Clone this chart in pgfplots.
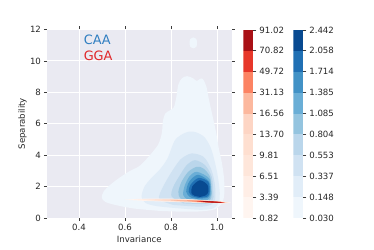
\documentclass[border=0pt]{standalone}
\usepackage{fontspec}
\setmainfont{DejaVu Sans}
\usepackage{pgfplots}
\pgfplotsset{compat=1.18}
\definecolor{axbg}{HTML}{EAEAF2}
\definecolor{txt}{HTML}{262626}
\definecolor{tk}{HTML}{3C3C3C}
\definecolor{B1}{HTML}{EFF6FC}
\definecolor{B2}{HTML}{E1EDF8}
\definecolor{B3}{HTML}{D0E2F2}
\definecolor{B4}{HTML}{BAD6EB}
\definecolor{B5}{HTML}{94C4DF}
\definecolor{B6}{HTML}{6AAED6}
\definecolor{B7}{HTML}{4292C6}
\definecolor{B8}{HTML}{2070B4}
\definecolor{B9}{HTML}{084A91}
\definecolor{R1}{HTML}{FFF5F0}
\definecolor{R2}{HTML}{FFEEE6}
\definecolor{R3}{HTML}{FEE6DA}
\definecolor{R4}{HTML}{FEDFD0}
\definecolor{R5}{HTML}{FDD5C4}
\definecolor{R6}{HTML}{FCB89E}
\definecolor{R7}{HTML}{FC8363}
\definecolor{R8}{HTML}{E7372A}
\definecolor{R9}{HTML}{A91016}
\definecolor{caa}{HTML}{2F7EC1}
\definecolor{gga}{HTML}{E0262A}
\pgfplotsset{
  cbar/.style={
    scale only axis, width=11.6bp, height=218bp, anchor=south west,
    xmin=0, xmax=1, ymin=0, ymax=9, xtick=\empty,
    ytick={0,1,...,9}, ytick pos=right, yticklabel pos=right,
    tick align=outside, major tick length=3.5bp,
    axis line style={draw=none},
    every tick/.style={tk, line width=0.8bp},
    tick label style={font=\normalsize, text=txt},
    /pgf/number format/assume math mode=true,
  },
  band/.style={fill=#1, draw=none},
}
\begin{document}
\begin{tikzpicture}
\useasboundingbox (0,0) rectangle (433.6bp,289bp);
\begin{axis}[
  at={(54.5bp,36.3bp)}, anchor=south west, scale only axis,
  width=213.9bp, height=218.5bp,
  xmin=0.261, xmax=1.063, ymin=0, ymax=12,
  xtick={0.4,0.6,0.8,1.0}, ytick={0,2,4,6,8,10,12},
  xticklabel style={/pgf/number format/.cd, fixed, fixed zerofill, precision=1},
  /pgf/number format/assume math mode=true,
  tick align=outside, major tick length=3.5bp,
  every tick/.style={tk, line width=0.8bp},
  tick label style={font=\normalsize, text=txt},
  label style={font=\normalsize, text=txt},
  ylabel style={yshift=-3bp},
  xlabel={Invariance}, ylabel={Separability},
  axis background/.style={fill=axbg},
  axis line style={draw=none},
  grid=major, grid style={white, line width=1bp},
]
% CAA (blue) density levels
\addplot[band=B1, smooth, tension=0.5] coordinates {
(0.75,0.45) (0.85,0.40) (0.93,0.42) (0.99,0.55) (1.022,0.95) (1.032,1.6) (1.03,2.6) (1.02,3.6) (1.008,4.4) (0.998,5.3) (0.988,6.0) (0.976,6.8) (0.964,7.6) (0.953,8.4) (0.938,8.85) (0.925,8.85) (0.912,8.72) (0.895,8.9) (0.87,9.03) (0.848,8.9) (0.832,8.5) (0.822,7.6) (0.812,7.05) (0.795,6.85) (0.775,6.65) (0.765,6.2) (0.76,5.4) (0.745,4.7) (0.72,4.2) (0.69,3.7) (0.66,3.28) (0.62,2.98) (0.575,2.55) (0.535,2.1) (0.508,1.7) (0.499,1.3) (0.515,1.02) (0.56,0.82) (0.64,0.6) (0.75,0.45)} -- cycle;
\addplot[band=B1, smooth, tension=0.6] coordinates {
(0.897,10.8) (0.91,10.9) (0.913,11.15) (0.91,11.4) (0.897,11.5) (0.884,11.4) (0.881,11.15) (0.884,10.9) (0.897,10.8)} -- cycle;
\addplot[band=B2, smooth, tension=0.5] coordinates {
(0.83,0.62) (0.93,0.52) (0.985,0.62) (1.008,1.0) (1.012,1.6) (1.004,2.6) (0.99,3.6) (0.972,4.5) (0.945,5.15) (0.91,5.45) (0.88,5.5) (0.845,5.3) (0.815,4.9) (0.785,3.8) (0.752,3.1) (0.715,2.55) (0.685,2.0) (0.672,1.35) (0.69,0.95) (0.74,0.75) (0.83,0.62)} -- cycle;
\addplot[band=B3, smooth, tension=0.5] coordinates {
(0.81,0.83) (0.926,0.72) (0.975,0.85) (0.991,1.14) (0.993,1.8) (0.985,2.6) (0.97,3.26) (0.941,3.9) (0.89,4.11) (0.846,3.79) (0.817,3.26) (0.781,2.41) (0.752,1.57) (0.752,1.14) (0.81,0.83)} -- cycle;
\addplot[band=B4, smooth, tension=0.5] coordinates {
(0.854,0.93) (0.955,0.9) (0.982,1.2) (0.984,1.57) (0.977,2.62) (0.948,3.36) (0.904,3.68) (0.868,3.36) (0.839,2.73) (0.81,1.99) (0.803,1.36) (0.854,0.93)} -- cycle;
\addplot[band=B5, smooth, tension=0.5] coordinates {
(0.868,1.04) (0.955,1.02) (0.975,1.3) (0.977,1.78) (0.97,2.62) (0.941,3.15) (0.912,3.26) (0.875,2.94) (0.846,2.31) (0.832,1.67) (0.84,1.25) (0.868,1.04)} -- cycle;
\addplot[band=B6, smooth, tension=0.5] coordinates {
(0.897,1.1) (0.955,1.12) (0.972,1.4) (0.974,1.78) (0.966,2.52) (0.912,2.94) (0.879,2.62) (0.858,1.99) (0.853,1.46) (0.87,1.2) (0.897,1.1)} -- cycle;
\addplot[band=B7, smooth, tension=0.5] coordinates {
(0.912,1.22) (0.958,1.28) (0.970,1.57) (0.966,2.31) (0.917,2.75) (0.879,2.31) (0.866,1.67) (0.883,1.33) (0.912,1.22)} -- cycle;
\addplot[band=B8, smooth, tension=0.5] coordinates {
(0.919,1.28) (0.958,1.36) (0.968,1.67) (0.962,2.3) (0.92,2.55) (0.885,2.12) (0.877,1.67) (0.892,1.4) (0.919,1.28)} -- cycle;
\addplot[band=B9, smooth, tension=0.5] coordinates {
(0.926,1.34) (0.952,1.45) (0.962,1.67) (0.958,2.12) (0.925,2.4) (0.893,2.02) (0.888,1.6) (0.902,1.42) (0.926,1.34)} -- cycle;
% GGA (red) density levels
\addplot[band=R1, smooth, tension=0.4] coordinates {
(0.60,1.16) (0.669,1.22) (0.761,1.237) (0.876,1.192) (0.968,1.106) (1.028,1.036) (1.06,0.97) (1.028,0.936) (0.968,0.946) (0.876,0.992) (0.761,1.047) (0.669,1.10) (0.60,1.16)} -- cycle;
\addplot[band=R2, smooth, tension=0.4] coordinates {
(0.64,1.16) (0.702,1.210) (0.785,1.216) (0.889,1.171) (0.972,1.090) (1.026,1.030) (1.055,0.973) (1.026,0.945) (0.972,0.955) (0.889,1.001) (0.785,1.054) (0.702,1.108) (0.64,1.16)} -- cycle;
\addplot[band=R3, smooth, tension=0.4] coordinates {
(0.68,1.16) (0.736,1.194) (0.810,1.196) (0.902,1.153) (0.976,1.079) (1.024,1.026) (1.05,0.975) (1.024,0.951) (0.976,0.959) (0.902,1.003) (0.810,1.054) (0.736,1.104) (0.68,1.16)} -- cycle;
\addplot[band=R4, smooth, tension=0.4] coordinates {
(0.72,1.154) (0.769,1.178) (0.834,1.175) (0.915,1.133) (0.980,1.068) (1.022,1.022) (1.045,0.978) (1.022,0.957) (0.980,0.964) (0.915,1.003) (0.834,1.051) (0.769,1.100) (0.72,1.154)} -- cycle;
\addplot[band=R5, smooth, tension=0.4] coordinates {
(0.76,1.142) (0.802,1.162) (0.858,1.153) (0.928,1.113) (0.984,1.057) (1.020,1.018) (1.04,0.98) (1.020,0.963) (0.984,0.969) (0.928,1.003) (0.858,1.049) (0.802,1.096) (0.76,1.142)} -- cycle;
\addplot[band=R6, smooth, tension=0.4] coordinates {
(0.80,1.13) (0.835,1.142) (0.882,1.136) (0.941,1.098) (0.988,1.050) (1.019,1.015) (1.035,0.983) (1.019,0.966) (0.988,0.970) (0.941,0.996) (0.882,1.042) (0.835,1.084) (0.80,1.13)} -- cycle;
\addplot[band=R7, smooth, tension=0.4] coordinates {
(0.87,1.097) (0.895,1.108) (0.928,1.098) (0.969,1.067) (1.002,1.033) (1.023,1.009) (1.035,0.983) (1.023,0.967) (1.002,0.965) (0.969,0.983) (0.928,1.018) (0.895,1.058) (0.87,1.097)} -- cycle;
\addplot[band=R8, smooth, tension=0.4] coordinates {
(0.91,1.072) (0.928,1.082) (0.952,1.076) (0.982,1.054) (1.006,1.029) (1.022,1.009) (1.03,0.985) (1.022,0.969) (1.006,0.965) (0.982,0.974) (0.952,1.000) (0.928,1.034) (0.91,1.072)} -- cycle;
\addplot[band=R9, smooth, tension=0.4] coordinates {
(0.93,1.058) (0.9435,1.066) (0.9615,1.064) (0.984,1.048) (1.002,1.027) (1.014,1.011) (1.02,0.99) (1.014,0.976) (1.002,0.971) (0.984,0.978) (0.9615,0.998) (0.9435,1.024) (0.93,1.058)} -- cycle;
\node[anchor=west, text=caa, font=\fontsize{15}{18}\selectfont, inner sep=0pt] at (axis cs:0.42,11.37) {CAA};
\node[anchor=west, text=gga, font=\fontsize{15}{18}\selectfont, inner sep=0pt] at (axis cs:0.42,10.35) {GGA};
\end{axis}
% GGA colour bar
\begin{axis}[cbar, at={(282.1bp,36.3bp)},
  yticklabels={0.82,3.39,6.51,9.81,13.70,16.56,31.13,49.72,70.82,91.02}]
\addplot[band=R1] coordinates {(0,0) (1,0) (1,1) (0,1)} -- cycle;
\addplot[band=R2] coordinates {(0,1) (1,1) (1,2) (0,2)} -- cycle;
\addplot[band=R3] coordinates {(0,2) (1,2) (1,3) (0,3)} -- cycle;
\addplot[band=R4] coordinates {(0,3) (1,3) (1,4) (0,4)} -- cycle;
\addplot[band=R5] coordinates {(0,4) (1,4) (1,5) (0,5)} -- cycle;
\addplot[band=R6] coordinates {(0,5) (1,5) (1,6) (0,6)} -- cycle;
\addplot[band=R7] coordinates {(0,6) (1,6) (1,7) (0,7)} -- cycle;
\addplot[band=R8] coordinates {(0,7) (1,7) (1,8) (0,8)} -- cycle;
\addplot[band=R9] coordinates {(0,8) (1,8) (1,9) (0,9)} -- cycle;
\end{axis}
% CAA colour bar
\begin{axis}[cbar, at={(340.0bp,36.3bp)},
  yticklabels={0.030,0.148,0.337,0.553,0.804,1.085,1.385,1.714,2.058,2.442}]
\addplot[band=B1] coordinates {(0,0) (1,0) (1,1) (0,1)} -- cycle;
\addplot[band=B2] coordinates {(0,1) (1,1) (1,2) (0,2)} -- cycle;
\addplot[band=B3] coordinates {(0,2) (1,2) (1,3) (0,3)} -- cycle;
\addplot[band=B4] coordinates {(0,3) (1,3) (1,4) (0,4)} -- cycle;
\addplot[band=B5] coordinates {(0,4) (1,4) (1,5) (0,5)} -- cycle;
\addplot[band=B6] coordinates {(0,5) (1,5) (1,6) (0,6)} -- cycle;
\addplot[band=B7] coordinates {(0,6) (1,6) (1,7) (0,7)} -- cycle;
\addplot[band=B8] coordinates {(0,7) (1,7) (1,8) (0,8)} -- cycle;
\addplot[band=B9] coordinates {(0,8) (1,8) (1,9) (0,9)} -- cycle;
\end{axis}
\end{tikzpicture}
\end{document}
